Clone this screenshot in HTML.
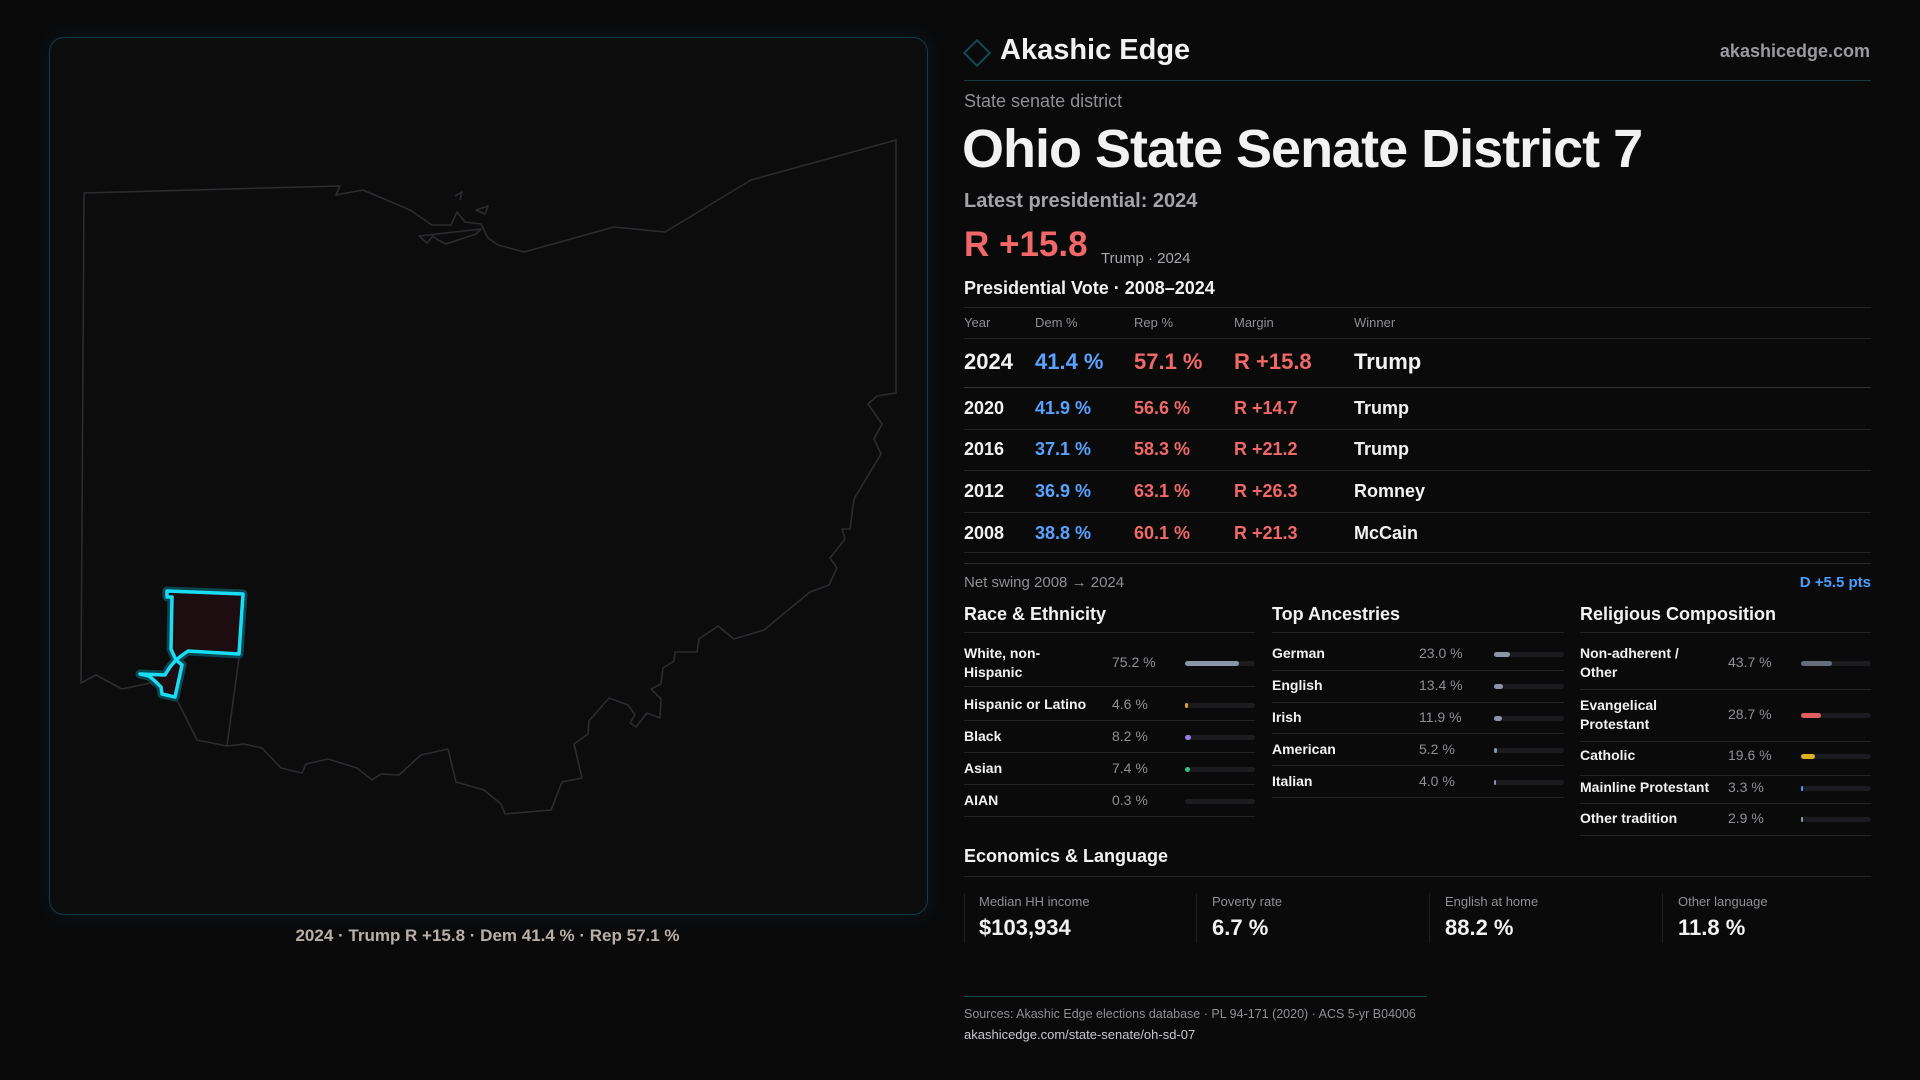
<!DOCTYPE html>
<html><head><meta charset="utf-8"><style>
*{margin:0;padding:0;box-sizing:border-box}
body{width:1920px;height:1080px;background:#0a0a0b;font-family:"Liberation Sans",sans-serif;color:#f2f2f2;position:relative;overflow:hidden}
.a{position:absolute;white-space:nowrap}
.ln{position:absolute;height:1px;background:#222226}
.g{color:#8f8f94}
.bar{position:absolute;height:5px;border-radius:3px;background:#1c1c20}
.bar i{position:absolute;left:0;top:0;height:5px;border-radius:3px}
</style></head><body>
<div class="a" style="left:49px;top:37px;width:879px;height:878px;border:1px solid #0f3c45;border-radius:15px;background:#0c0c0d;box-shadow:0 0 18px rgba(0,160,190,0.10)"></div>
<svg class="a" style="left:0;top:0" width="960" height="1080" viewBox="0 0 960 1080">
<g fill="none" stroke="#2c2c30" stroke-width="1.6" stroke-linejoin="round">
<path d="M84,193 L340,186 L336,195 L363,190 L410,210 L432,225 L451,225 L457,212 L465,222 L481,224 L488,238 L498,245 L524,252 L614,227 L665,232 L751,180 L896,140 L896,393 L877,396 L868,404 L882,424 L874,439 L881,454 L854,499 L850,529 L842,529 L845,539 L830,558 L837,568 L829,585 L810,592 L764,630 L734,639 L718,626 L699,639 L697,652 L675,652 L674,661 L663,668 L661,684 L651,689 L661,699 L660,718 L647,713 L636,727 L630,723 L635,715 L628,705 L609,698 L589,721 L588,734 L574,744 L582,778 L562,782 L551,810 L505,814 L501,804 L484,790 L456,782 L448,749 L421,755 L399,775 L381,774 L372,780 L357,768 L328,759 L306,764 L302,773 L281,768 L262,748 L244,744 L227,746 L197,740 L178,702 L150,683 L122,689 L96,675 L81,683 Z"/>
<path d="M239,658 L227,746"/>
<path d="M419,236 L481,229 L476,234 L446,244 L438,240 L433,236 L427,243 Z"/>
<path d="M476,210 L488,206 L485,214 Z"/>
<path d="M455,196 L462,192 L460,200"/>
</g>
<path d="M167,591 L243,594 L239,654 L188,651 L181,656 L176,660 L182,665 L177,688 L175,697 L162,694 L161,687 L155,681 L149,676 L140,674 L165,675 L170,667 L176,660 L171,649 L172,597 L167,597 Z" fill="#1e0d10" stroke="#0a4550" stroke-width="9" stroke-linejoin="round"/>
<path d="M167,591 L243,594 L239,654 L188,651 L181,656 L176,660 L182,665 L177,688 L175,697 L162,694 L161,687 L155,681 L149,676 L140,674 L165,675 L170,667 L176,660 L171,649 L172,597 L167,597 Z" fill="#1e0d10" stroke="#19dcf5" stroke-width="3.5" stroke-linejoin="round"/>
</svg>
<div class="a" style="left:0;width:975px;top:926px;text-align:center;font-size:17px;color:#b8b0a8;font-weight:bold">2024 · Trump R +15.8 · Dem 41.4 % · Rep 57.1 %</div>

<div class="a" style="left:967px;top:43px;width:20px;height:20px;border:2px solid #0f4a55;transform:rotate(45deg)"></div>
<div class="a" style="left:1000px;top:34px;font-size:29px;font-weight:bold">Akashic Edge</div>
<div class="a" style="right:50px;top:41px;font-size:18px;color:#9a9a9e;font-weight:bold">akashicedge.com</div>
<div class="ln" style="left:964px;width:907px;top:80px;background:#173a40"></div>
<div class="a g" style="left:964px;top:91px;font-size:18px">State senate district</div>
<div class="a" style="left:962px;top:118px;font-size:54px;font-weight:bold;letter-spacing:-1px">Ohio State Senate District 7</div>
<div class="a" style="left:964px;top:190px;font-size:20px;color:#a3a3a8;font-weight:bold">Latest presidential: 2024</div>
<div class="a" style="left:964px;top:225px;font-size:35px;color:#f06868;font-weight:bold">R +15.8</div>
<div class="a" style="left:1101px;top:250px;font-size:15px;color:#a8a8ac">Trump · 2024</div>
<div class="a" style="left:964px;top:278px;font-size:18px;font-weight:bold">Presidential Vote · 2008–2024</div>
<div class="ln" style="left:964px;width:907px;top:307px"></div>
<div class="a g" style="left:964px;top:315px;font-size:13px">Year</div>
<div class="a g" style="left:1035px;top:315px;font-size:13px">Dem %</div>
<div class="a g" style="left:1134px;top:315px;font-size:13px">Rep %</div>
<div class="a g" style="left:1234px;top:315px;font-size:13px">Margin</div>
<div class="a g" style="left:1354px;top:315px;font-size:13px">Winner</div>
<div class="ln" style="left:964px;width:907px;top:338px"></div>
<div class="a" style="left:964px;top:349px;font-size:22px;font-weight:bold">2024</div>
<div class="a" style="left:1035px;top:349px;font-size:22px;font-weight:bold;color:#5aa2ff">41.4 %</div>
<div class="a" style="left:1134px;top:349px;font-size:22px;font-weight:bold;color:#f06868">57.1 %</div>
<div class="a" style="left:1234px;top:349px;font-size:22px;font-weight:bold;color:#f06868">R +15.8</div>
<div class="a" style="left:1354px;top:349px;font-size:22px;font-weight:bold">Trump</div>
<div class="ln" style="left:964px;width:907px;top:387px;background:#333338"></div>
<div class="a" style="left:964px;top:398px;font-size:18px;font-weight:bold">2020</div><div class="a" style="left:1035px;top:398px;font-size:18px;font-weight:bold;color:#5aa2ff">41.9 %</div><div class="a" style="left:1134px;top:398px;font-size:18px;font-weight:bold;color:#f06868">56.6 %</div><div class="a" style="left:1234px;top:398px;font-size:18px;font-weight:bold;color:#f06868">R +14.7</div><div class="a" style="left:1354px;top:398px;font-size:18px;font-weight:bold">Trump</div>
<div class="ln" style="left:964px;width:907px;top:429px"></div>
<div class="a" style="left:964px;top:439px;font-size:18px;font-weight:bold">2016</div><div class="a" style="left:1035px;top:439px;font-size:18px;font-weight:bold;color:#5aa2ff">37.1 %</div><div class="a" style="left:1134px;top:439px;font-size:18px;font-weight:bold;color:#f06868">58.3 %</div><div class="a" style="left:1234px;top:439px;font-size:18px;font-weight:bold;color:#f06868">R +21.2</div><div class="a" style="left:1354px;top:439px;font-size:18px;font-weight:bold">Trump</div>
<div class="ln" style="left:964px;width:907px;top:470px"></div>
<div class="a" style="left:964px;top:481px;font-size:18px;font-weight:bold">2012</div><div class="a" style="left:1035px;top:481px;font-size:18px;font-weight:bold;color:#5aa2ff">36.9 %</div><div class="a" style="left:1134px;top:481px;font-size:18px;font-weight:bold;color:#f06868">63.1 %</div><div class="a" style="left:1234px;top:481px;font-size:18px;font-weight:bold;color:#f06868">R +26.3</div><div class="a" style="left:1354px;top:481px;font-size:18px;font-weight:bold">Romney</div>
<div class="ln" style="left:964px;width:907px;top:512px"></div>
<div class="a" style="left:964px;top:523px;font-size:18px;font-weight:bold">2008</div><div class="a" style="left:1035px;top:523px;font-size:18px;font-weight:bold;color:#5aa2ff">38.8 %</div><div class="a" style="left:1134px;top:523px;font-size:18px;font-weight:bold;color:#f06868">60.1 %</div><div class="a" style="left:1234px;top:523px;font-size:18px;font-weight:bold;color:#f06868">R +21.3</div><div class="a" style="left:1354px;top:523px;font-size:18px;font-weight:bold">McCain</div>
<div class="ln" style="left:964px;width:907px;top:552px"></div>
<div class="ln" style="left:964px;width:907px;top:563px;background:#2a2a2e"></div>
<div class="a g" style="left:964px;top:574px;font-size:15px">Net swing 2008 → 2024</div>
<div class="a" style="right:49px;top:574px;font-size:15px;color:#4a9eff;font-weight:bold">D +5.5 pts</div>

<div class="a" style="left:964px;top:604px;font-size:18px;font-weight:bold">Race &amp; Ethnicity</div>
<div class="a" style="left:1272px;top:604px;font-size:18px;font-weight:bold">Top Ancestries</div>
<div class="a" style="left:1580px;top:604px;font-size:18px;font-weight:bold">Religious Composition</div>
<div class="ln" style="left:964px;width:291px;top:632px"></div>
<div class="ln" style="left:1272px;width:292px;top:632px"></div>
<div class="ln" style="left:1580px;width:291px;top:632px"></div>

<div style="font-size:14px;font-weight:bold">
<div class="a" style="left:964px;top:644px;line-height:19px">White, non-<br>Hispanic</div><div class="a g" style="left:1112px;top:654px;font-weight:normal">75.2 %</div><div class="bar" style="left:1185px;width:70px;top:661px"><i style="width:54px;background:#8a95a8"></i></div>
<div class="ln" style="left:964px;width:291px;top:686px"></div>
<div class="a" style="left:964px;top:696px">Hispanic or Latino</div><div class="a g" style="left:1112px;top:696px;font-weight:normal">4.6 %</div><div class="bar" style="left:1185px;width:70px;top:703px"><i style="width:3px;background:#e0a030"></i></div>
<div class="ln" style="left:964px;width:291px;top:720px"></div>
<div class="a" style="left:964px;top:728px">Black</div><div class="a g" style="left:1112px;top:728px;font-weight:normal">8.2 %</div><div class="bar" style="left:1185px;width:70px;top:735px"><i style="width:6px;background:#9a7ae8"></i></div>
<div class="ln" style="left:964px;width:291px;top:752px"></div>
<div class="a" style="left:964px;top:760px">Asian</div><div class="a g" style="left:1112px;top:760px;font-weight:normal">7.4 %</div><div class="bar" style="left:1185px;width:70px;top:767px"><i style="width:5px;background:#30c080"></i></div>
<div class="ln" style="left:964px;width:291px;top:784px"></div>
<div class="a" style="left:964px;top:792px">AIAN</div><div class="a g" style="left:1112px;top:792px;font-weight:normal">0.3 %</div><div class="bar" style="left:1185px;width:70px;top:799px"></div>
<div class="ln" style="left:964px;width:291px;top:816px"></div>

<div class="a" style="left:1272px;top:645px">German</div><div class="a g" style="left:1419px;top:645px;font-weight:normal">23.0 %</div><div class="bar" style="left:1494px;width:70px;top:652px"><i style="width:16px;background:#8a95a8"></i></div>
<div class="ln" style="left:1272px;width:292px;top:670px"></div>
<div class="a" style="left:1272px;top:677px">English</div><div class="a g" style="left:1419px;top:677px;font-weight:normal">13.4 %</div><div class="bar" style="left:1494px;width:70px;top:684px"><i style="width:9px;background:#8a95a8"></i></div>
<div class="ln" style="left:1272px;width:292px;top:702px"></div>
<div class="a" style="left:1272px;top:709px">Irish</div><div class="a g" style="left:1419px;top:709px;font-weight:normal">11.9 %</div><div class="bar" style="left:1494px;width:70px;top:716px"><i style="width:8px;background:#8a95a8"></i></div>
<div class="ln" style="left:1272px;width:292px;top:733px"></div>
<div class="a" style="left:1272px;top:741px">American</div><div class="a g" style="left:1419px;top:741px;font-weight:normal">5.2 %</div><div class="bar" style="left:1494px;width:70px;top:748px"><i style="width:3px;background:#8a95a8"></i></div>
<div class="ln" style="left:1272px;width:292px;top:765px"></div>
<div class="a" style="left:1272px;top:773px">Italian</div><div class="a g" style="left:1419px;top:773px;font-weight:normal">4.0 %</div><div class="bar" style="left:1494px;width:70px;top:780px"><i style="width:2px;background:#8a95a8"></i></div>
<div class="ln" style="left:1272px;width:292px;top:797px"></div>

<div class="a" style="left:1580px;top:644px;line-height:19px">Non-adherent /<br>Other</div><div class="a g" style="left:1728px;top:654px;font-weight:normal">43.7 %</div><div class="bar" style="left:1801px;width:70px;top:661px"><i style="width:31px;background:#666c78"></i></div>
<div class="ln" style="left:1580px;width:291px;top:689px"></div>
<div class="a" style="left:1580px;top:696px;line-height:19px">Evangelical<br>Protestant</div><div class="a g" style="left:1728px;top:706px;font-weight:normal">28.7 %</div><div class="bar" style="left:1801px;width:70px;top:713px"><i style="width:20px;background:#e06060"></i></div>
<div class="ln" style="left:1580px;width:291px;top:741px"></div>
<div class="a" style="left:1580px;top:747px">Catholic</div><div class="a g" style="left:1728px;top:747px;font-weight:normal">19.6 %</div><div class="bar" style="left:1801px;width:70px;top:754px"><i style="width:14px;background:#e0b020"></i></div>
<div class="ln" style="left:1580px;width:291px;top:775px"></div>
<div class="a" style="left:1580px;top:779px">Mainline Protestant</div><div class="a g" style="left:1728px;top:779px;font-weight:normal">3.3 %</div><div class="bar" style="left:1801px;width:70px;top:786px"><i style="width:2px;background:#4a9eff"></i></div>
<div class="ln" style="left:1580px;width:291px;top:803px"></div>
<div class="a" style="left:1580px;top:810px">Other tradition</div><div class="a g" style="left:1728px;top:810px;font-weight:normal">2.9 %</div><div class="bar" style="left:1801px;width:70px;top:817px"><i style="width:2px;background:#8a95a8"></i></div>
<div class="ln" style="left:1580px;width:291px;top:835px"></div>
</div>

<div class="a" style="left:964px;top:846px;font-size:18px;font-weight:bold">Economics &amp; Language</div>
<div class="ln" style="left:964px;width:907px;top:876px"></div>
<div class="a" style="left:964px;top:893px;width:1px;height:50px;background:#1e1e22"></div>
<div class="a" style="left:1196px;top:893px;width:1px;height:50px;background:#1e1e22"></div>
<div class="a" style="left:1429px;top:893px;width:1px;height:50px;background:#1e1e22"></div>
<div class="a" style="left:1662px;top:893px;width:1px;height:50px;background:#1e1e22"></div>
<div class="a g" style="left:979px;top:894px;font-size:13px">Median HH income</div><div class="a" style="left:979px;top:915px;font-size:22px;font-weight:bold">$103,934</div>
<div class="a g" style="left:1212px;top:894px;font-size:13px">Poverty rate</div><div class="a" style="left:1212px;top:915px;font-size:22px;font-weight:bold">6.7 %</div>
<div class="a g" style="left:1445px;top:894px;font-size:13px">English at home</div><div class="a" style="left:1445px;top:915px;font-size:22px;font-weight:bold">88.2 %</div>
<div class="a g" style="left:1678px;top:894px;font-size:13px">Other language</div><div class="a" style="left:1678px;top:915px;font-size:22px;font-weight:bold">11.8 %</div>

<div class="ln" style="left:964px;width:463px;top:996px;background:#174a50"></div>
<div class="a g" style="left:964px;top:1007px;font-size:12.5px">Sources: Akashic Edge elections database · PL 94-171 (2020) · ACS 5-yr B04006</div>
<div class="a" style="left:964px;top:1027px;font-size:13px;color:#c8c8cc">akashicedge.com/state-senate/oh-sd-07</div>
</body></html>
